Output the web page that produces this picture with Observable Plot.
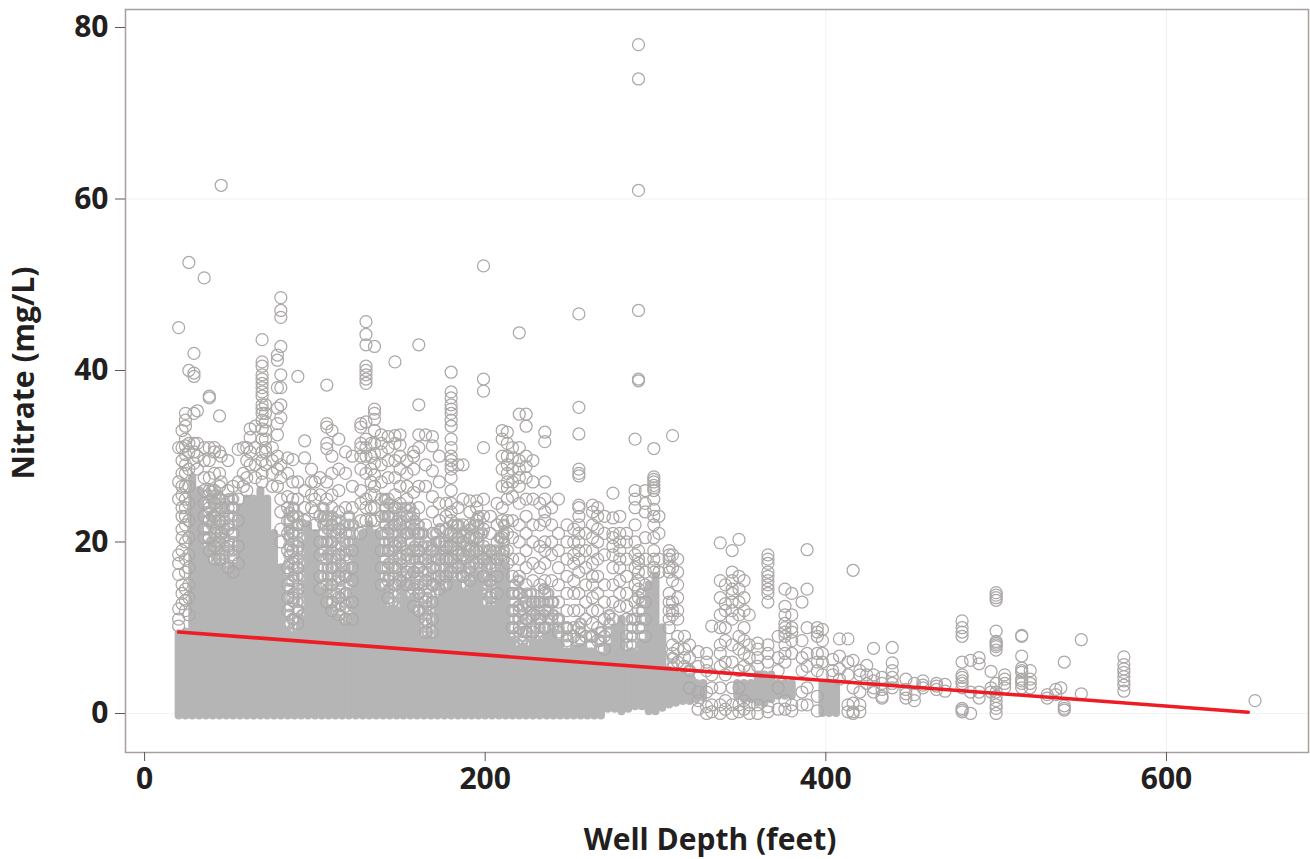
<!DOCTYPE html>
<html>
<head>
<meta charset="utf-8">
<script src="https://cdn.jsdelivr.net/npm/d3@7"></script>
<script src="https://cdn.jsdelivr.net/npm/@observablehq/plot@0.6"></script>
<style>html,body{margin:0;padding:0;background:#fff}svg{display:block}</style>
</head>
<body>
<div id="chart"></div>
<script>
// Solid part of the cloud, where circles overlap completely: depth, lowest and highest nitrate read per column
const coreDepth = [20,24,28,32,36,40,44,48,52,56,60,64,68,72,76,80,84,88,92,96,100,104,108,112,116,120,124,128,132,136,140,144,148,152,156,160,164,168,172,176,180,184,188,192,196,200,204,208,212,216,220,224,228,232,236,240,244,248,252,256,260,264,268,272,276,280,284,288,292,296,300,304,308,312,316,320,324,328,348,352,356,360,364,368,372,376,380,398,402,406];
const coreLow = [-0.3,-0.3,-0.3,-0.3,-0.3,-0.3,-0.3,-0.3,-0.3,-0.3,-0.3,-0.3,-0.3,-0.3,-0.3,-0.3,-0.3,-0.3,-0.3,-0.3,-0.3,-0.3,-0.3,-0.3,-0.3,-0.3,-0.3,-0.3,-0.3,-0.3,-0.3,-0.3,-0.3,-0.3,-0.3,-0.3,-0.3,-0.3,-0.3,-0.3,-0.3,-0.3,-0.3,-0.3,-0.3,-0.3,-0.3,-0.3,-0.3,-0.3,-0.3,-0.3,-0.3,-0.3,-0.3,-0.3,-0.3,-0.3,-0.3,-0.3,-0.3,-0.3,-0.3,0.5,0.5,0.2,0.5,0.8,0.8,0.2,0.2,0.6,1,1.2,1.4,1.4,1.6,1.8,2,1.6,1.6,1.2,1.2,1.6,2,2,2,0,0,0];
const coreHigh = [9.3,9.5,27.5,26,19,17,17,16,17,24,25,25,26,25,21,17,9.4,9,11,22,21,14,12,11,10,10,20,21,22,21,14,12,12,15,13,11,8.5,8.5,13,14,15,15,14,15,16,12,12,16,17,8.5,7.5,7.5,8,8,9,9.5,8,7,7.5,7.5,7,7,6.5,7.5,10,11,7,7,8,15,16,10,5,4.5,4.5,4,3.5,3.5,3.5,3.5,3.5,4.5,4.5,4.5,3.5,3.5,3.5,3.5,3.5,3.5];

// Closely packed stretches of the cloud, where only small gaps stay white: depth, then nitrate readings
const packedWells = [
[37,19.5,20.5,21.5,22.5,23.5,24.5,25.5],
[39.5,18,19,20,22,23,25,26],
[42,17.5,18.5,19.5,20.5,21.5,22.5,23.5,24.5,25.5],
[44.5,17,18,19,21,22,24,25],
[47,16.5,17.5,18.5,19.5,20.5,21.5,22.5,23.5,24.5],
[49.5,16,17,19,20,22,23,25],
[52,17,18,19,20,21,22,23,24,25],
[85,9.5,10.5,11.5,12.5,13.5,14.5,15.5,16.5,17.5,18.5,19.5,20.5,21.5,22.5,23.5],
[87.5,10,11,13,14,16,17,18,20,21,23,24],
[90,9,10,11,12,13,14,15,16,17,18,19,20,21,22,23],
[92.5,10,11.5,13,14.5,16,17.5,19,20.5,22],
[105,14,15,16,17,18,19,20,21,22,23,24],
[107.5,13,14.5,16,17,18.5,20,21.5,23],
[110,12,13,14,15,16,17,18,19,20,21,22,23],
[112.5,11,12.5,14,15.5,17,18,19.5,21,22.5],
[115,10.5,11.5,12.5,13.5,14.5,15.5,16.5,17.5,18.5,19.5,20.5,21.5,22.5],
[117.5,10,11,13,14,16,17,19,20,22],
[120,10,11,12,13,14,15,16,17,18,19,20,21,22,23],
[122.5,11,12.5,14,15.5,17,18.5,20,22],
[141,14,15,16,17,18,19,20,21,22,23,24,25],
[143.5,13,14.5,16,17.5,19,20,21.5,23,24.5],
[146,12,13,14,15,16,17,18,19,20,21,22,23,24],
[148.5,12.5,14,15,17,18.5,20,21,22.5,24],
[151,13.5,14.5,15.5,16.5,17.5,18.5,19.5,20.5,21.5,22.5,23.5],
[153.5,15,16,18,19,21,22,24],
[156,13,14,15,16,17,18,19,20,21,22,23,24],
[158.5,12,13.5,15,16.5,18,19.5,21,22.5],
[161,11,12,13,14,15,16,17,18,19,20,21,22],
[163.5,9,10.5,12,13.5,15,16.5,18,19.5,21],
[166,8.5,9.5,10.5,11.5,12.5,13.5,14.5,15.5,16.5,17.5,18.5,19.5],
[168.5,9,10,12,13,15,16,18,19.5],
[171,9,10,11,12,13,14,15,16,17,18,19,20,21],
[173.5,14,15.5,17,18.5,20,21.5],
[176,14,15,16,17,18,19,20],
[178.5,15,16.5,18,19.5,21],
[181,15,16,17,18,19,20,21,22],
[183.5,16,17.5,19,20.5,22],
[186,15,16,17,18,19,20,21],
[188.5,15,16.5,18,19.5,21],
[191,15.5,16.5,17.5,18.5,19.5,20.5,21.5],
[193.5,16,17.5,19,20.5,22],
[196,16,17,18,19,20,21,22,23],
[198.5,13,14.5,16,17.5,19,21],
[201,12,13,14,15,16,17,18,19],
[203.5,12.5,14,15.5,17,18.5],
[206,12,13,14,15,16,17,18,19],
[208.5,16,17.5,19,20.5],
[211,16,17,18,19,20,21,22],
[217,8,9,10,11,12,13,14,15],
[219.5,8,9.5,11,12.5,14,15.5],
[222,7.5,8.5,9.5,10.5,11.5,12.5,13.5],
[224.5,8,9.5,11,12.5,14],
[227,8,9,10,11,12,13,14],
[229.5,8.5,10,11.5,13],
[232,8,9,10,11,12,13],
[234.5,8.5,10,11.5,13,14.5],
[237,9,10,11,12,13,14],
[240,10,11.5,13],
[243,8,9,10,11],
[248,7,8,9,10],
[256,7.5,8.5,9.5,10.5],
[262,7,8,9],
[268,6.5,7.5,8.5,9.5],
[273,7.5,8.5,9.5,10.5,11.5],
[286,7,8,9,10,11],
[292,8,9,10,11,12,13,14],
[310,4.5,5.5,6.5],
[320,3,4,5]
];

// Individual circles: first number of each row is the well depth, the rest nitrate readings
const shallowWells = [
[20,45,31,27,25,18.5,17.5,16.2,12.2,11,10.2],
[22,33,31,29.5,28,26.5,25.5,24,23,21.5,20.5,19,15,14,12.8],
[24,35,34.2,33.5,32,31.2,30.2,29,28,26.5,25,24,23,22,20,18,16.5,14.5,13.2,12],
[26,52.6,40,31.5,30.5,28.5,26.5,24.5,22.5,20.5,18.5,17,15,13.5,11.5],
[29,42,39.7,39.3,35,31.5,30.5,29.2],
[31,35.3,31.5,30,28.5],
[35,50.8,31,29.5,27.5,26,24.5,23,21.5,20.5],
[38,37,36.8,31,29.5,27.5,26,24,22.5,20.5,19],
[41,31,30.5,28,26,24.5,23,21,19.5,18],
[44,34.7,30.5,28,26.5,25,22.5,20,18],
[45,61.6,30,27,24,21],
[49,29.5,26,24,21.5,19.5,17],
[52,26.5,24,21,18.5,16.5],
[55,30.8,27,25,22.5,19.5,17.5],
[58,31,28,26.5],
[60,31,29.5,27.5,26],
[62,33.2,32.2,30.5,29],
[65,33.5,31,29,27.5],
[69,43.6,41,40.5,39.5,39,38.5,38,37.5,37,36,35.5,35,34.2,33.2,32,30.5,29.5,28,27],
[71,36,35,34,33,32,31,30.5,29],
[75,31,29.5,28,26.5],
[78,41.8,41.2,38,35.6,33.8,32.5,30,28.5,26.5],
[80,48.5,47,46.2,42.8,39.5,38,36,34.5,29,27.5,25,23.5,21.5,20],
[84,29.8,28,25.3,24,22.5,21,19,17,15,13.5,12],
[87,29.6,27,25,23,21,19,17.5,15.5,13.5,11],
[90,39.3,27,25,22,19.5,17,14.5,12,10.5],
[94,31.8,29.8,26,24,22.5],
[98,28.5,27,25.5,24],
[100,27,25,23.5,22],
[103,27.5,25.5,23,20,18.5,16,14.5],
[107,38.3,33.8,33.4,31.5,30.9,27,25,22.5,20,18,15,13],
[110,33,30,28,25.5,24,22,20,17,15,13,12],
[114,32,28.5,26,23.5,21.5,18.5,16,13.5,11.5],
[118,30.5,28,24,21,18.5,16,14,12.5,11],
[122,30,26.5,24,21,19,17,15.5,13,11],
[127,33.8,33.4,31.5,31,30,28.5,26,24.5,22.5,21]
];
const middleWells = [
[130,45.7,44.2,43,40.5,40,39.5,39,38.5,34,32,31,30,28,25,24,22.5],
[133,31.5,30,28.5,27,25.5,24,22.5],
[135,42.8,35.5,35,34.3,33,31.5,30.3,29.2,27.8,26.5,25.5,24,22.5],
[139,32.5,31.5,30.5,29,27,25,23,21,19,17,15],
[143,32.3,31,29.5,27.5,25,23,21,19,17,15.5,13.5],
[147,41,32.4,31.5,29.5,27.5,25.5,24,22,19.5,17,15],
[150,32.5,31.3,30,28.5,26.5,24.5,22,20,18,15.5],
[154,29.5,28,26.5,25,23,21,18.5,16.5,15],
[158,30.5,30,28.5,25.8,23.3,21.5,19,16.5,14.5,12.5],
[161,43,36,32.5,31,26.5,24,21,19,17,14,12],
[165,32.5,29,26.5,22,20,18,15.5,13,11,9.5],
[169,32.3,31.2,28.3,25.3,23.5,21,19,17,15,13,11,9.5],
[173,30,27,24.5,22.5,20,18,16,14.5],
[177,24.5,23,21.5,19.5,18,16,15],
[180,39.8,37.5,36.8,36,35.5,35,34.2,33.5,32,31,30,29.5,29,28.5,27.5,26,24.5,23.5,22.5,21,19.5,18,16.5],
[184,29,24,22,20.5,18.5,17],
[187,29,25,22,20,18.5,16],
[191,24.8,23.5,22,20.5,19,17,15.5],
[195,24.8,24,22.5,20.5,19,17.5],
[199,52.2,39,37.6,31,25,23,21.5,19.5,18,16],
[203,23,21,19,17.5,15.5,13.5],
[207,24.5,22,20,18,16,14],
[210,33,32,30,28.5,26.5,24,22.5,20.5,18.5],
[213,32.8,31.5,30,29,28,27,26.3,25,22.5,21,19,17.5],
[216,31,29.8,28.5,27,25.3,22.5,20.5,18,16,14,12,10],
[220,44.4,34.9,31,29.5,28.5,27.5,26.5,24.5,22,20,18,16,14,12,10],
[224,34.9,33.5,30,28.8,27.5,25,23,21,19,17,15,13,11,9.5],
[228,29.5,27,25,22,20,17.5,15.5,13,11.5,9.5],
[232,24.5,22,19.5,17,15,13,11],
[235,32.8,31.7,27,25,23.5,22.5,20,19,17.5,15.5,14,12,10],
[239,24,22,20,18.5,15.5,13,11],
[243,25,21,19,17,15,13,11,9.5],
[248,22,20,18,16,14,12,10,8.5],
[252,21.5,20,18.5,17.5,15.5,14,12,10,9]
];
const deepWells = [
[255,46.6,35.7,32.6,28.5,28,27.7,24.3,24,23,22,21,20,19,18,16.5,14,12,10,8.5],
[259,21,19,17,15,13,11,9],
[263,24.3,23.5,22,20.5,19,17.5,16,15,13.5,12,10.5,9],
[266,24,23,21.5,20,18,16,14,12,10,8.5],
[270,23,21,18.5,15,13,11,9,7.5],
[275,25.7,22.8,21,20.5,19.5,18.5,17,15,13,11],
[279,23,21,20,19,18,17,15.5,14,12.5],
[283,21,20,18,16,14,12.5,11,9,8],
[288,32,26,25,24,22,20,18.5,17,15,13,11],
[290,78,74,61,47,39,38.8,19,18,17.5,16.5,15.5,14.5,13.5,12,10],
[294,26,24.5,23.5,20.5,18,16.5,15,13,11,9],
[299,30.9,27.6,27.3,27,26.6,26.3,26,25,23.8,23,22,20.5,19,18,17,16.5],
[302,23,21,18,16.5],
[308,19,18.5,18,17,16.5,14,13,12,11,10],
[310,32.4,18.5,17,15.5,13,12,11.5,8,7],
[313,18,16.5,15,13.5,12,11,9,7.5,6],
[317,9,7.5,6.5,5.5],
[320,8,6.5,5,3],
[325,7.2,5.5,2.5,1.5,0.5],
[330,7,6,5,2.5,0.8,0],
[333,10.2,4.5,3,1,0.2],
[338,19.9,15.5,13.5,11.5,10,8,7,5.5,3,1,0],
[341,15,12.8,12,10,8.5,6,4.5,1.5,0.5],
[345,19,16.5,15.5,14.5,14,13,12,11,8,6,3,1,0],
[349,20.3,16,14.5,13,11.5,9,7.5,5,3,1,0.2],
[352,15.5,13.5,12,10,8.5,7,5.5,1.5,0.5],
[355,11.5,8,6.5,5,1,0],
[360,8.2,7.5,6.5,5.5,1,0],
[366,18.5,18,17.5,16.5,16,15.5,15,14.5,14,13,8,7,6,0.8,0.2],
[372,9,6.5,5,3,0.5],
[376,14.5,12.5,11.5,10.5,10,9.5,9,8,7,6,1.5,0.5],
[380,14,11.5,10,9.5,8.5,7,1,0.3],
[386,13,8.5,6.5,5,2.5,1],
[389,19.1,14.5,10,7,5.5,3,1],
[395,10,9.5,9,7,6,5,2,0.3],
[398,9.8,8.5,7,6,4.5],
[404,6.3,5,4.5],
[408,8.7,6.7,5.2,4],
[413,8.7,6,4.5,1,0.2],
[416,16.7,6.2,3,1.2,0.2,0],
[420,5,4.5,2.5,1,0.2],
[424,5.6,4.5,3.5],
[428,7.6,4.5,3.8,3,2.5],
[433,4.2,3.5,2.8,2,1.8],
[439,7.7,5.9,5,4.2,3.5,3],
[447,4,2.8,2.3,1.8],
[452,3.5,2.2,1.5],
[457,3.8,3.3,3],
[465,3.5,3.2,2.8],
[470,3.4,2.6],
[480,10.8,10,9.5,9,6,4.5,4.2,3.8,3.5,3,0.6,0.4,0.2],
[485,6.2,2.5,0],
[490,6.5,5.8,2.5,1.8],
[497,4.9,3,2.5],
[500,14.1,13.8,13.5,13.2,9.6,8.4,8.2,8,7.8,7.4,3.5,2.5,2,1.5,1,0.6,0],
[505,4.5,4,3.5,3],
[515,9.1,9,6.7,5.3,5,4.8,4,3.8,3.5,3],
[520,5,4,3.5,3],
[530,2.2,1.8],
[535,2.8,2.2],
[538,3],
[540,6,0.9,0.6,0.4],
[550,8.6,2.3],
[575,6.6,5.7,5.2,4.8,4.3,3.8,3.3,2.6],
[652,1.5]
];

// Linear fit as read at both ends of the red line
const fitDepth = [20,648];
const fitNitrate = [9.5,0.15];

const xTicks = [0,200,400,600];
const yTicks = [0,20,40,60,80];

const unpack = rows => rows.flatMap(([d,...vs]) => vs.map(v => ({d,v})));
const openDots = unpack([...shallowWells,...middleWells,...deepWells]);
const packedDots = unpack(packedWells);
const ink = "#231f20", labelFont = "'Open Sans', sans-serif";

const chart = Plot.plot({
  width: 1310, height: 859,
  marginLeft: 125, marginRight: 2, marginTop: 9, marginBottom: 107,
  x: {domain: [-11.2,683.4]},
  y: {domain: [-4.55,82.1]},
  style: {background: "#ffffff", fontFamily: labelFont},
  marks: [
    Plot.gridX([400,600], {stroke: "#f0f0f0", strokeOpacity: 1, strokeWidth: 1}),
    Plot.gridY([60,0], {stroke: "#f3f3f3", strokeOpacity: 1, strokeWidth: 1}),
    Plot.dot(packedDots, {x: "d", y: "v", r: 5, stroke: "#b5b5b5", strokeWidth: 2.6, fill: "none"}),
    Plot.ruleX(coreDepth, {x: d => d, y1: (d,i) => coreLow[i], y2: (d,i) => coreHigh[i], stroke: "#b5b5b5", strokeWidth: 8, strokeLinecap: "round"}),
    Plot.dot(openDots, {x: "d", y: "v", r: 6, stroke: "#aca8a7", strokeWidth: 1.25, fill: "none"}),
    Plot.line(fitDepth.map((d,i) => ({d, v: fitNitrate[i]})), {x: "d", y: "v", stroke: "#ee1c25", strokeWidth: 3.6}),
    Plot.frame({stroke: "#a89e9c", strokeWidth: 1.5}),
    Plot.axisX({ticks: xTicks, label: null, tickSize: 9, tickPadding: 6, stroke: "#5f5654", fill: ink, fontSize: 30, fontWeight: "bold", tickFormat: d => String(d)}),
    Plot.axisY({ticks: yTicks, label: null, tickSize: 10, tickPadding: 7, stroke: "#5f5654", fill: ink, fontSize: 30, fontWeight: "bold", tickFormat: d => String(d)}),
    Plot.text(["Well Depth (feet)"], {frameAnchor: "bottom", dx: -7, dy: 97, fontSize: 30, fontWeight: "bold", fill: ink}),
    Plot.text(["Nitrate (mg/L)"], {frameAnchor: "left", textAnchor: "middle", dx: -101, dy: -8, rotate: -90, fontSize: 30, fontWeight: "bold", fill: ink})
  ]
});
document.getElementById("chart").appendChild(chart);
</script>
</body>
</html>
